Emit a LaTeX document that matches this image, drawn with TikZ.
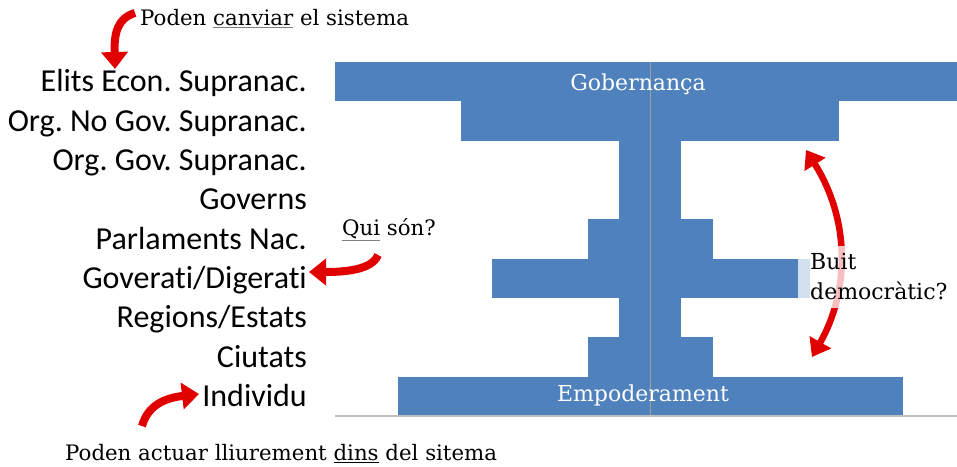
\documentclass[tikz,border=0pt]{standalone}
\usepackage{fontspec}
\setmainfont{DejaVu Serif}
\newfontfamily\labfont[Ligatures=CommonOff]{Carlito}
\usetikzlibrary{arrows.meta}
\frenchspacing
\definecolor{barblue}{RGB}{79,129,189}
\definecolor{arrred}{RGB}{224,0,0}
\newcommand{\grayul}[1]{{\color{gray}\underline{\textcolor{black}{#1}}}}
\tikzset{
  bar/.style={fill=barblue},
  lab/.style={font=\labfont\fontsize{32}{35}\selectfont, anchor=base east, inner sep=0pt},
  note/.style={font=\fontsize{21.3}{30}\selectfont, inner sep=0pt},
  white label/.style={font=\fontsize{22}{26}\selectfont, text=white, inner sep=0pt},
  redarrow/.style={draw=arrred, line width=8pt, -{Triangle[length=17pt,width=26pt]}},
  redarrows/.style={draw=arrred, line width=6.5pt, {Triangle[length=17pt,width=24pt]}-{Triangle[length=17pt,width=24pt]}}
}
\begin{document}
\begin{tikzpicture}[x=1pt,y=-1pt]
\useasboundingbox (0,0) rectangle (957,466);
% bars
\fill[bar] (335,62) rectangle (957,101.3);
\fill[bar] (461,101.3) rectangle (839,140.7);
\fill[bar] (619,140.7) rectangle (681,180);
\fill[bar] (619,180) rectangle (681,219.3);
\fill[bar] (588,219.3) rectangle (713,258.7);
\fill[bar] (492,258.7) rectangle (810,298);
\fill[bar] (619,298) rectangle (681,337.3);
\fill[bar] (588,337.3) rectangle (713,376.7);
\fill[bar] (398,376.7) rectangle (903,416);
\draw[gray!75, line width=0.8pt] (650,62) -- (650,416);
\draw[gray!50, line width=2pt] (335,416) -- (957,416);
% bar labels
\node[white label] (gob) at (638,84) {Gobernança};
\node[white label] (emp) at (643,395) {Empoderament};
% row labels
\node[lab] (l1) at (307,91.5) {Elits Econ. Supranac.};
\node[lab] (l2) at (307,131) {Org. No Gov. Supranac.};
\node[lab] (l3) at (307,170.5) {Org. Gov. Supranac.};
\node[lab] (l4) at (307,209.5) {Governs};
\node[lab] (l5) at (307,249) {Parlaments Nac.};
\node[lab] (l6) at (307,288.5) {Goverati/Digerati};
\node[lab] (l7) at (307,327.5) {Regions/Estats};
\node[lab] (l8) at (307,367) {Ciutats};
\node[lab] (l9) at (307,406.5) {Individu};
% notes
\node[note, anchor=base west] (top) at (140,25) {Poden \grayul{canviar} el sistema};
\node[note, anchor=base west] (qui) at (342,235) {\grayul{Qui} són?};
\node[note, anchor=base west] (bot) at (65,460) {Poden actuar lliurement \underline{dins} del sitema};
% arrows
\coordinate (a1s) at (135,13);
\coordinate (a1e) at (115,69);
\draw[redarrow] (a1s) .. controls (118,18) and (114,32) .. (a1e);
\coordinate (a2s) at (378,255);
\coordinate (a2e) at (309,272);
\draw[redarrow] (a2s) .. controls (372,270) and (345,272) .. (a2e);
\coordinate (a3s) at (142,426);
\coordinate (a3e) at (199,394);
\draw[redarrow] (a3s) .. controls (148,405) and (165,398) .. (a3e);
\coordinate (a4s) at (806,150);
\coordinate (a4e) at (812,357);
\draw[redarrows] (a4s) .. controls (850,220) and (850,290) .. (a4e);
\node[note, font=\fontsize{22}{30}\selectfont, anchor=west, align=left, fill=white, fill opacity=0.75, text opacity=1,
      inner xsep=12pt, inner ysep=8pt] (buit) at (798,277) {Buit\\democràtic?};
\end{tikzpicture}
\end{document}
